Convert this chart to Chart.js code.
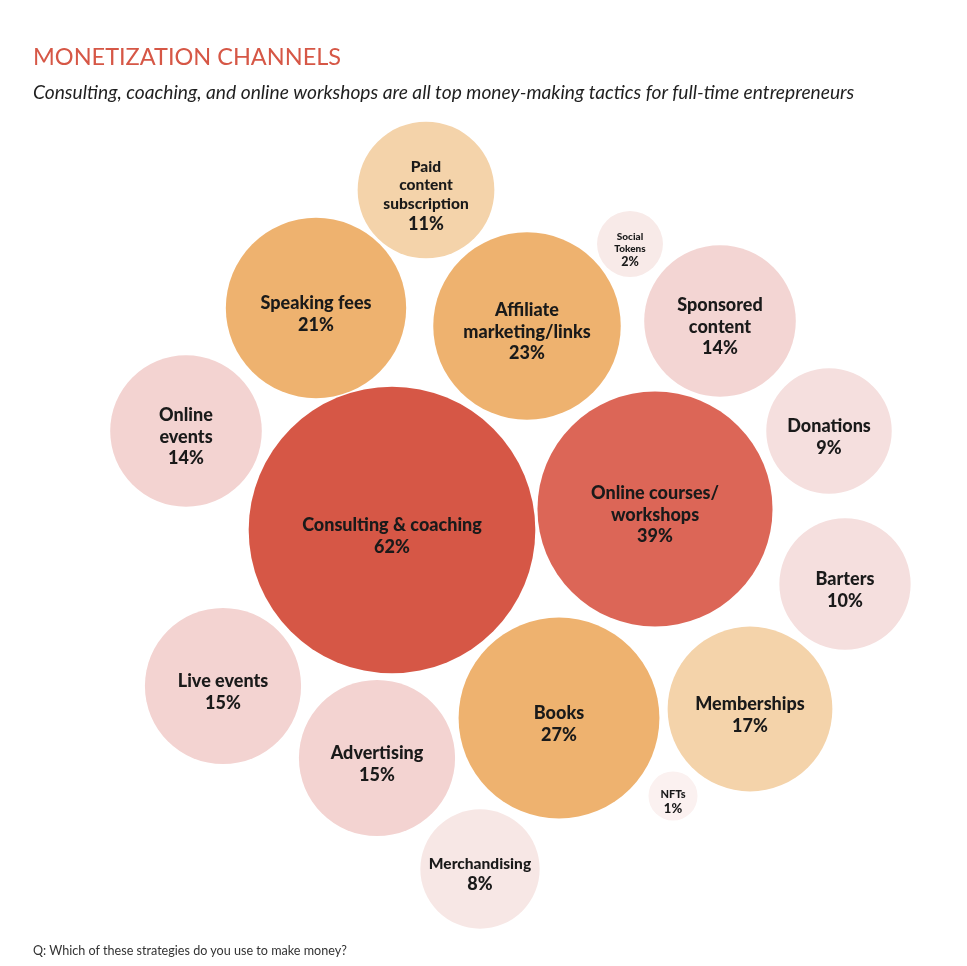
<!DOCTYPE html>
<html>
<head>
<meta charset="utf-8">
<script src="https://cdn.jsdelivr.net/npm/chart.js@4.4.1/dist/chart.umd.min.js"></script>
<style>
html,body{margin:0;padding:0;background:#fff;}
#wrap{position:relative;width:967px;height:966px;overflow:hidden;background:#fff;}
#c{position:absolute;left:0;top:0;}
.t{position:absolute;left:33px;white-space:nowrap;font-family:Lato,"DejaVu Sans",sans-serif;}
#title{top:44px;font-size:23.5px;line-height:24px;color:#D65746;}
#sub{top:81px;font-size:19.2px;line-height:22px;font-style:italic;color:#1f1f1f;}
#foot{top:943px;font-size:12.6px;line-height:15px;color:#333;}
</style>
</head>
<body>
<div id="wrap">
<canvas id="c" width="967" height="966"></canvas>
<div class="t" id="title">MONETIZATION CHANNELS</div>
<div class="t" id="sub">Consulting, coaching, and online workshops are all top money-making tactics for full-time entrepreneurs</div>
<div class="t" id="foot">Q: Which of these strategies do you use to make money?</div>
</div>
<script>
// ---- data ----
const channels = ["Consulting & coaching", "Online courses/\nworkshops", "Affiliate\nmarketing/links", "Speaking fees",
  "Paid\ncontent\nsubscription", "Social\nTokens", "Sponsored\ncontent", "Donations", "Barters", "Memberships",
  "NFTs", "Books", "Merchandising", "Advertising", "Live events", "Online\nevents"];
const shares = [62, 39, 23, 21, 11, 2, 14, 9, 10, 17, 1, 27, 8, 15, 15, 14];
// packed-layout position of each bubble centre (layout units)
const packX = [392, 655, 527, 316, 426, 630, 720, 829, 845, 750, 673, 559, 480, 377, 223, 186];
const packY = [530, 509, 326, 308, 190, 244, 321, 431, 584, 709, 796, 718, 869, 758, 686, 431];

// ---- styles ----
const colors = ["#D65746", "#DC6657", "#EEB26F", "#EEB26F", "#F4D3AA", "#F8EAE8", "#F3D5D3", "#F5DFDE",
  "#F5DFDE", "#F4D3AA", "#FBF1F0", "#EEB26F", "#F7E7E5", "#F3D3D1", "#F3D3D1", "#F3D3D1"];
const labelSizes = [[18,18],[18,18],[18,18],[18,18],[15.5,18],[10,12.5],[18,18],[18,18],
  [18,18],[18,18],[11,13],[18,18],[15.5,18],[18,18],[18,18],[18,18]];

const radiusFor = (v, chart) => 24.5 * Math.pow(v, 0.428) * chart.width / 967;

const labelPlugin = {
  id: 'bubbleLabels',
  afterDatasetsDraw(chart) {
    const ctx = chart.ctx;
    const meta = chart.getDatasetMeta(0);
    ctx.save();
    ctx.fillStyle = '#1a1a1a';
    ctx.textAlign = 'center';
    ctx.textBaseline = 'middle';
    meta.data.forEach((el, i) => {
      const lines = channels[i].split('\n');
      const [ns, ps] = labelSizes[i];
      const items = lines.map(t => ({t, s: ns})).concat([{t: shares[i] + '%', s: ps}]);
      const total = items.reduce((a, it) => a + it.s * 1.2, 0);
      let y = el.y - total / 2 + 6;
      items.forEach(it => {
        const lh = it.s * 1.2;
        ctx.font = `900 ${it.s}px Lato, "DejaVu Sans", sans-serif`;
        ctx.fillText(it.t, el.x, y + lh / 2);
        y += lh;
      });
    });
    ctx.restore();
  }
};

new Chart(document.getElementById('c'), {
  type: 'bubble',
  data: {
    datasets: [{
      data: channels.map((c, i) => ({x: packX[i], y: packY[i]})),
      backgroundColor: colors,
      hoverBackgroundColor: colors,
      borderWidth: 0,
      hoverBorderWidth: 0,
      hoverRadius: 0,
      radius: (ctx) => radiusFor(shares[ctx.dataIndex], ctx.chart),
      clip: false
    }]
  },
  options: {
    responsive: false,
    devicePixelRatio: 1,
    animation: false,
    events: [],
    layout: {padding: 0, autoPadding: false},
    scales: {
      x: {type: 'linear', min: 0, max: 967, display: false},
      y: {type: 'linear', min: 0, max: 966, reverse: true, display: false}
    },
    plugins: {legend: {display: false}, tooltip: {enabled: false}, title: {display: false}}
  },
  plugins: [labelPlugin]
});
</script>
</body>
</html>
